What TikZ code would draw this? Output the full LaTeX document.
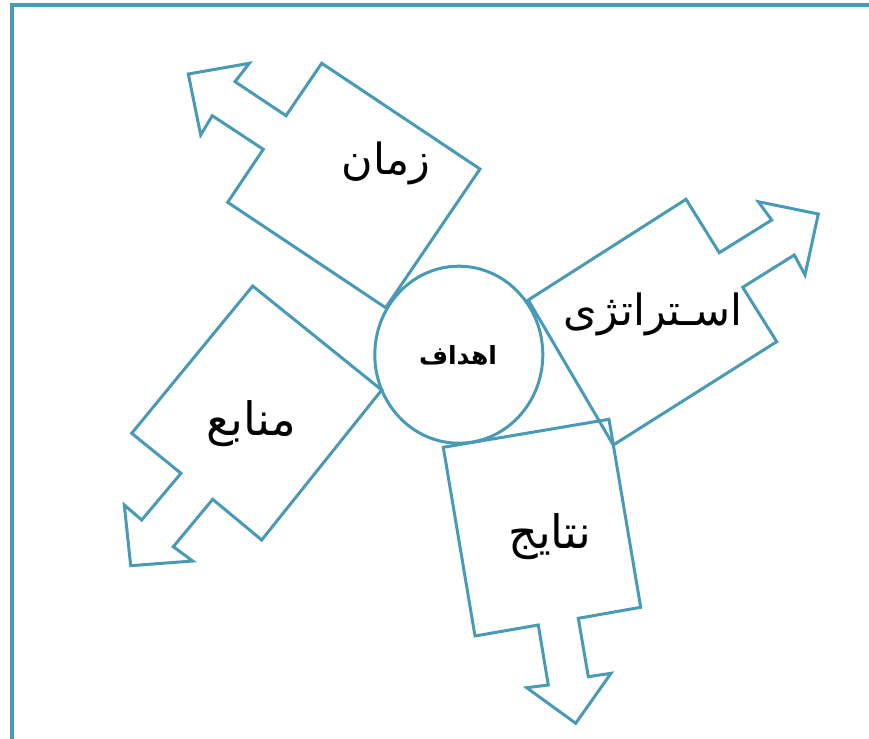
\documentclass[tikz,border=0pt]{standalone}
\usepackage{fontspec}
\usetikzlibrary{shapes.geometric}
\newfontfamily\arabicfont[Script=Arabic]{DejaVu Sans}
\TeXXeTstate=1
\definecolor{teal}{RGB}{72,154,181}
\begin{document}
\begin{tikzpicture}[x=1pt,y=-1pt,
  shp/.style={draw=teal,line width=3pt,line join=miter},
  lbl/.style={font=\arabicfont\fontsize{43}{45}\selectfont,inner sep=0pt},
  lblb/.style={font=\arabicfont\fontsize{46}{48}\selectfont,inner sep=0pt},
  frame/.style={draw=teal,line width=4pt}]
\useasboundingbox (0,0) rectangle (869,738);
% frame
\coordinate (f1) at (12,745);
\coordinate (f2) at (12,5.5);
\coordinate (f3) at (875,5.5);
\draw[frame] (f1) -- (f2) -- (f3);
% zaman
\draw[shp] (188.3,74) -- (249.3,63.3) -- (235,81.7) -- (286,115.7) -- (321.7,63.3) -- (480,169) -- (385.7,307.7) -- (227.7,202.3) -- (263.3,149.3) -- (212.3,115.7) -- (200.7,135) -- cycle;
% strategy
\draw[shp] (528.3,300) -- (686,199.3) -- (719.3,252.7) -- (771.7,220) -- (758.3,201.7) -- (818.3,214) -- (805,275) -- (794.3,255) -- (742.7,287.3) -- (776.7,341.7) -- (613.3,445) -- cycle;
% manabe
\draw[shp] (252.7,286) -- (381.7,390) -- (261.7,540) -- (212.7,499.3) -- (173.3,546.7) -- (192.7,561) -- (130.7,565.7) -- (124.3,505) -- (141.7,520) -- (181,473.3) -- (131.7,433.3) -- cycle;
% natayej
\draw[shp] (443.3,447.3) -- (609,419.3) -- (640.7,607.3) -- (578.3,618.3) -- (588.3,676.7) -- (611,673.3) -- (575.7,723.3) -- (526.7,687.7) -- (548.3,685) -- (538.3,625) -- (475,636) -- cycle;
% circle
\node[shp,ellipse,minimum width=168pt,minimum height=177pt,inner sep=0pt] (c) at (458.8,354.7) {};
\node[font=\arabicfont\bfseries\fontsize{25}{27}\selectfont,inner sep=0pt] (ct) at (458,355) {\beginR اهداف\endR};
\node[lbl] (t1) at (386,163) {\beginR زمان\endR};
\node[lbl] (t2) at (653,314) {\beginR اسـتراتژی\endR};
\node[lblb] (t3) at (251,424) {\beginR منابع\endR};
\node[lblb] (t4) at (550,537) {\beginR نتایج\endR};
\end{tikzpicture}
\end{document}
